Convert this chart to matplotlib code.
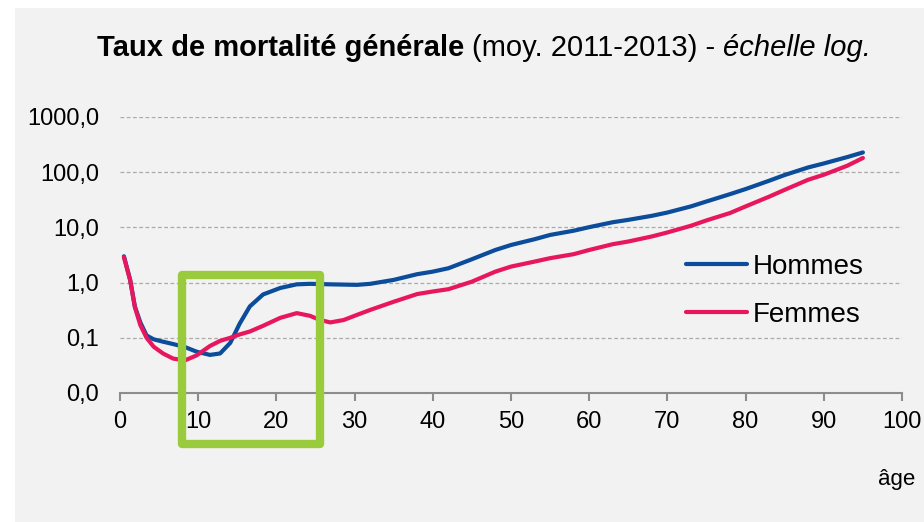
#!/usr/bin/env python3
"""Taux de mortalite generale par age, echelle log."""

import matplotlib

matplotlib.use("Agg")
import matplotlib.pyplot as plt
from matplotlib.patches import Rectangle
from matplotlib.ticker import FixedLocator, NullLocator

plt.rcParams["font.family"] = ["Liberation Sans", "DejaVu Sans"]

# ages (years) and rates per 1000
ages = [0.5, 1.3, 1.9, 2.6, 3.4, 4.3, 5.5, 6.8, 8.3, 9.8, 11.5, 12.8, 14.1,
        15.3, 16.6, 18.3, 20.5, 22.6, 24.3, 25.6, 26.9, 28.6, 30.3,
        32, 35, 38, 40, 42, 45, 48, 50, 53, 55, 58, 60, 63, 65, 68,
        70, 73, 75, 78, 80, 83, 85, 88, 90, 93, 95]
hommes = [3.0, 1.12, 0.37, 0.19, 0.11, 0.094, 0.085, 0.077, 0.068, 0.056,
          0.049, 0.052, 0.081, 0.18, 0.37, 0.61, 0.80, 0.93, 0.95, 0.94,
          0.93, 0.92, 0.91,
          0.95, 1.12, 1.42, 1.58, 1.82, 2.65, 3.9, 4.8, 6.1, 7.3,
          8.7, 10.1, 12.4, 13.7, 16.2, 18.6, 24.0, 29.5, 40.0, 49.5, 70.0,
          89.0, 122.0, 144.0, 188.0, 228.0]
femmes = [2.9, 1.1, 0.36, 0.17, 0.1, 0.069, 0.052, 0.042, 0.039, 0.048,
          0.071, 0.088, 0.1, 0.115, 0.13, 0.165, 0.23, 0.28, 0.25, 0.21,
          0.19, 0.21, 0.26,
          0.32, 0.45, 0.62, 0.69, 0.76, 1.04, 1.58, 1.95, 2.4,
          2.77, 3.27, 3.9, 4.96, 5.55, 6.85, 8.1, 10.7, 13.4, 18.2, 24.0,
          36.0, 48.0, 73.0, 90.0, 131.0, 181.0]

y_ticks = [0.01, 0.1, 1, 10, 100, 1000]
y_labels = ["0,0", "0,1", "1,0", "10,0", "100,0", "1000,0"]
x_ticks = list(range(0, 101, 10))

BG = "#f2f2f2"
BLUE = "#0b4c9b"
PINK = "#e8175d"
GREEN = "#9acb3c"

fig = plt.figure(figsize=(9.24, 5.22), dpi=100)
fig.patch.set_facecolor("white")
fig.patches.append(Rectangle((15 / 924, 0), 1, (522 - 8) / 522,
                             transform=fig.transFigure, facecolor=BG,
                             edgecolor="none", zorder=-10))

ax = fig.add_axes([120 / 924, 1 - 393 / 522, 782 / 924, 276 / 522])
ax.set_facecolor(BG)
ax.set_yscale("log")
ax.set_xlim(0, 100)
ax.set_ylim(0.01, 1000)

ax.plot(ages, hommes, color=BLUE, lw=3, solid_capstyle="round",
        solid_joinstyle="round", label="Hommes", zorder=3)
ax.plot(ages, femmes, color=PINK, lw=3, solid_capstyle="round",
        solid_joinstyle="round", label="Femmes", zorder=3)

ax.yaxis.set_major_locator(FixedLocator(y_ticks))
ax.yaxis.set_minor_locator(NullLocator())
ax.set_yticklabels(y_labels)
ax.set_xticks(x_ticks)
ax.tick_params(axis="y", length=0, labelsize=17, pad=15)
ax.tick_params(axis="x", length=6, width=1.5, color="#8c8c8c", labelsize=17,
               direction="out", pad=7)
for val in y_ticks[1:]:
    ax.axhline(val, color="#aaaaaa", lw=0.9, ls=(0, (3, 2)), zorder=1)
for side in ["left", "right", "top"]:
    ax.spines[side].set_visible(False)
ax.spines["bottom"].set_color("#8c8c8c")
ax.spines["bottom"].set_linewidth(1.5)

# highlight box around the 8-25 ages
ax.add_patch(Rectangle((7.9, 0.0012), 25.6 - 7.9, 1.35 - 0.0012, fill=False,
                       edgecolor=GREEN, lw=6, joinstyle="round",
                       clip_on=False, zorder=4))

ax.legend(loc="upper left", bbox_to_anchor=(0.71, 0.545), frameon=False,
          fontsize=20, handlelength=2.2, handletextpad=0.2, labelspacing=0.8,
          borderaxespad=0)

# title in three styles, centred as a whole
ty = 1 - 48 / 522
parts = [("Taux de mortalité générale ", "bold", "normal"),
         ("(moy. 2011-2013) - ", "normal", "normal"),
         ("échelle log.", "normal", "italic")]
fig.canvas.draw()
renderer = fig.canvas.get_renderer()
texts = []
x = 0
for s, weight, style in parts:
    t = fig.text(x, ty, s, fontsize=21, fontweight=weight, style=style,
                 ha="left", va="center")
    w = t.get_window_extent(renderer).width
    texts.append((t, w))
    x += w / 924
start = 484 / 924 - x / 2
for t, w in texts:
    t.set_x(start)
    start += w / 924

fig.text(915 / 924, 1 - 480 / 522, "âge", fontsize=16, ha="right", va="center")

fig.savefig("out.png", dpi=100, facecolor=fig.get_facecolor())
